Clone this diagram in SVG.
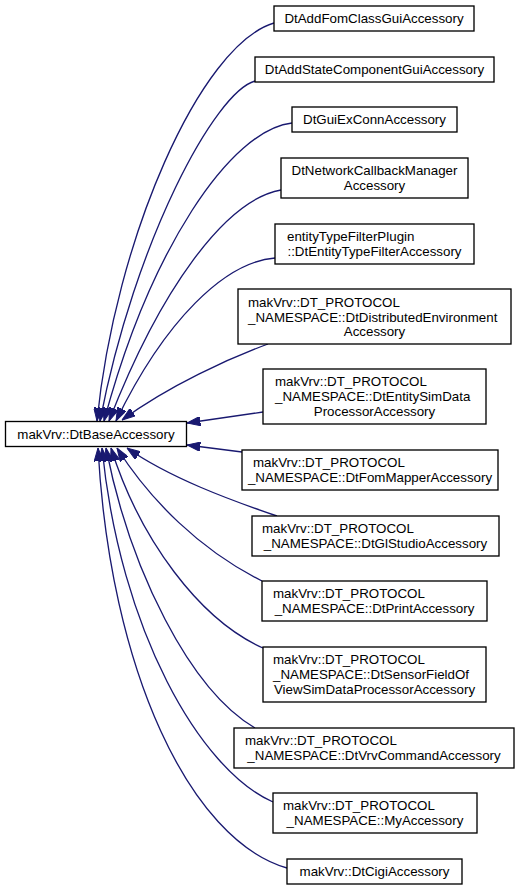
<svg xmlns="http://www.w3.org/2000/svg" width="520" height="891" viewBox="0 0 520 891">
<style>
.box{fill:#fff;stroke:#000;stroke-width:1.33}
.t{font-family:"Liberation Sans",Arial,sans-serif;font-size:13.33px;fill:#000}
.m{text-anchor:middle}
.e{fill:none;stroke:#191970;stroke-width:1.33;marker-end:url(#arr)}
</style>
<defs>
<marker id="arr" markerUnits="userSpaceOnUse" viewBox="0 0 13.3 9.3" refX="13.3" refY="4.65" markerWidth="13.3" markerHeight="9.3" orient="auto">
<path d="M0,0 L13.3,4.65 L0,9.3 z" fill="#191970" stroke="#191970" stroke-width="1"/>
</marker>
</defs>
<rect width="520" height="891" fill="#fff"/>
<g id="connectors">
<path class="e" d="M274,23 C200,45 115,240 97,421"/>
<path class="e" d="M255,81 C215,92 135,240 100,421"/>
<path class="e" d="M292,123 C230,130 150,250 104,421"/>
<path class="e" d="M281,190 C225,200 160,290 109,421"/>
<path class="e" d="M275,258 C225,262 165,320 116,421"/>
<path class="e" d="M268,344 C230,358 170,385 122,420"/>
<path class="e" d="M263,412 L187,423"/>
<path class="e" d="M242,452 L187,445"/>
<path class="e" d="M277,516 C230,500 170,478 127,448"/>
<path class="e" d="M262,581 C200,550 150,500 117,448"/>
<path class="e" d="M263,648 C200,620 140,540 111,448"/>
<path class="e" d="M255,728 C190,690 130,570 106,448"/>
<path class="e" d="M273,802 C200,770 120,630 102,448"/>
<path class="e" d="M287,868 C190,840 110,670 98,448"/>
</g>
<g id="base"><rect class="box" x="5.5" y="421.5" width="181" height="25"/><text class="t m" x="96" y="438.5">makVrv::DtBaseAccessory</text></g>
<g id="n1"><rect class="box" x="274" y="6" width="200" height="25"/><text class="t m" x="374" y="23">DtAddFomClassGuiAccessory</text></g>
<g id="n2"><rect class="box" x="255" y="57" width="239" height="25"/><text class="t m" x="374.5" y="74">DtAddStateComponentGuiAccessory</text></g>
<g id="n3"><rect class="box" x="292" y="107" width="165" height="25"/><text class="t m" x="374.5" y="124">DtGuiExConnAccessory</text></g>
<g id="n4"><rect class="box" x="281" y="158" width="187" height="40"/><text class="t m" x="374.5" y="174.5">DtNetworkCallbackManager</text><text class="t m" x="374.5" y="189.5">Accessory</text></g>
<g id="n5"><rect class="box" x="275" y="224" width="199" height="40"/><text class="t" x="287" y="240.5">entityTypeFilterPlugin</text><text class="t m" x="374.5" y="255.5">::DtEntityTypeFilterAccessory</text></g>
<g id="n6"><rect class="box" x="238" y="289" width="273" height="55"/><text class="t" x="248" y="306.5">makVrv::DT_PROTOCOL</text><text class="t" x="248" y="321.5">_NAMESPACE::DtDistributedEnvironment</text><text class="t m" x="374.5" y="336">Accessory</text></g>
<g id="n7"><rect class="box" x="263" y="369" width="223" height="55"/><text class="t" x="275" y="386">makVrv::DT_PROTOCOL</text><text class="t" x="275" y="401">_NAMESPACE::DtEntitySimData</text><text class="t m" x="374.5" y="415.5">ProcessorAccessory</text></g>
<g id="n8"><rect class="box" x="242" y="450" width="256" height="40"/><text class="t" x="253" y="466.5">makVrv::DT_PROTOCOL</text><text class="t m" x="370" y="481.5">_NAMESPACE::DtFomMapperAccessory</text></g>
<g id="n9"><rect class="box" x="252" y="516" width="247" height="40"/><text class="t" x="262" y="532.5">makVrv::DT_PROTOCOL</text><text class="t m" x="375.5" y="547.5">_NAMESPACE::DtGlStudioAccessory</text></g>
<g id="n10"><rect class="box" x="262" y="581" width="225" height="40"/><text class="t" x="273" y="597.5">makVrv::DT_PROTOCOL</text><text class="t m" x="374.5" y="612.5">_NAMESPACE::DtPrintAccessory</text></g>
<g id="n11"><rect class="box" x="263" y="647" width="223" height="55"/><text class="t" x="273" y="664">makVrv::DT_PROTOCOL</text><text class="t" x="273" y="679">_NAMESPACE::DtSensorFieldOf</text><text class="t m" x="374.5" y="694">ViewSimDataProcessorAccessory</text></g>
<g id="n12"><rect class="box" x="234" y="728" width="280" height="40"/><text class="t" x="245" y="744.5">makVrv::DT_PROTOCOL</text><text class="t m" x="374" y="759.5">_NAMESPACE::DtVrvCommandAccessory</text></g>
<g id="n13"><rect class="box" x="273" y="793" width="204" height="40"/><text class="t" x="283" y="809.5">makVrv::DT_PROTOCOL</text><text class="t m" x="375" y="824.5">_NAMESPACE::MyAccessory</text></g>
<g id="n14"><rect class="box" x="287" y="859" width="175" height="25"/><text class="t m" x="374.5" y="876">makVrv::DtCigiAccessory</text></g>
</svg>
